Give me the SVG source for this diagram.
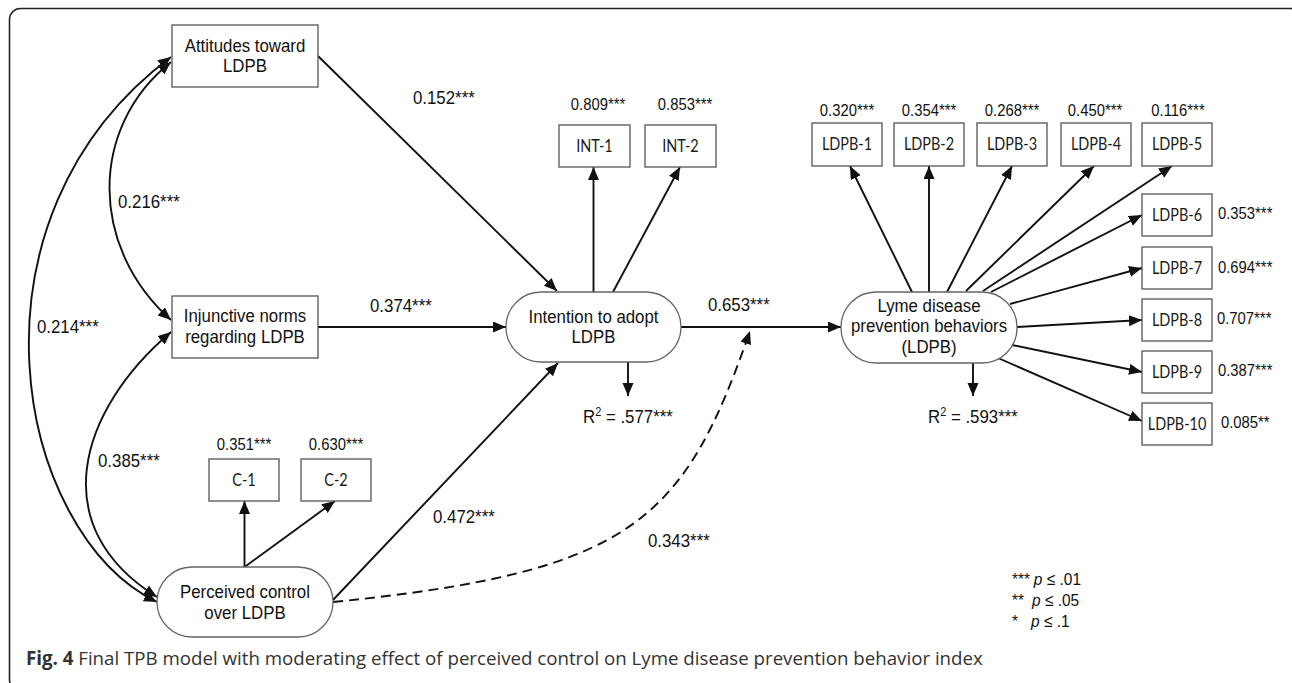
<svg xmlns="http://www.w3.org/2000/svg" width="1292" height="683" viewBox="0 0 1292 683">
<style>
.frame{fill:none;stroke:#222;stroke-width:1.6}
.box{fill:#fff;stroke:#555;stroke-width:1.3}
.oval{fill:#fff;stroke:#666;stroke-width:1.3}
text{transform-box:fill-box}
.nt{font-family:"Liberation Sans",Arial,sans-serif;font-size:18.5px;fill:#111;text-anchor:middle;transform-origin:center;transform:scaleX(0.91)}
.bt{font-family:Lato,"Open Sans",sans-serif;font-size:17px;fill:#1a1a1a;text-anchor:middle;transform-origin:center;transform:scaleX(0.85)}
.co{font-family:"Liberation Sans",Arial,sans-serif;font-size:18.5px;fill:#111;transform-origin:left center;transform:scaleX(0.91)}
.ld{font-family:"Liberation Sans",Arial,sans-serif;font-size:16.3px;fill:#111;transform-origin:left center;transform:scaleX(0.91)}
.ldm{font-family:"Liberation Sans",Arial,sans-serif;font-size:16.3px;fill:#111;text-anchor:middle;transform-origin:center;transform:scaleX(0.91)}
.lg{font-family:"Liberation Sans",Arial,sans-serif;font-size:17px;fill:#111;transform-origin:left center;transform:scaleX(0.91)}
.cap{font-family:"Open Sans","Noto Sans",sans-serif;font-size:18.7px;fill:#333}
.ln{fill:none;stroke:#111;stroke-width:1.9;marker-end:url(#ah)}
.dash{stroke-dasharray:10 6}
.bi{marker-start:url(#ah)}
</style>
<defs>
<marker id="ah" markerUnits="userSpaceOnUse" markerWidth="14" markerHeight="12" refX="13" refY="5.5" orient="auto-start-reverse" viewBox="0 0 14 12">
<path d="M0,0 L13,5.5 L0,11 z" fill="#111"/>
</marker>
</defs>
<rect class="frame" x="9.5" y="8.5" width="1292" height="682" rx="11"/>

<g id="connectors">
<path class="ln bi" d="M157,602 C14,532 -45,218 171,57"/>
<path class="ln bi" d="M171,320 C90,248 88,128 171,62"/>
<path class="ln bi" d="M171,332 C78,411 44.5,527 157,597"/>
<path class="ln" d="M318,56 L557,291"/>
<path class="ln" d="M318,327 L506,327"/>
<path class="ln" d="M333,600 L558,363"/>
<path class="ln" d="M593.5,292 L593.5,167"/>
<path class="ln" d="M613,292 L680,167"/>
<path class="ln" d="M628,362 L628,396"/>
<path class="ln" d="M244.5,567 L244.5,501"/>
<path class="ln" d="M244.5,567 L335,501"/>
<path class="ln" d="M681,327 L841,327"/>
<path class="ln dash" d="M333,602 C633,572 684,521 750,331"/>
<path class="ln" d="M973,363 L973,396"/>
<path class="ln" d="M912,292 L850,166"/>
<path class="ln" d="M929,292 L929,166"/>
<path class="ln" d="M947,292 L1012,166"/>
<path class="ln" d="M966,291 L1094,166"/>
<path class="ln" d="M983,291 L1172,166"/>
<path class="ln" d="M991,292 L1142,215"/>
<path class="ln" d="M1010,304 L1142,268"/>
<path class="ln" d="M1017,327 L1142,320"/>
<path class="ln" d="M1012,345 L1142,372"/>
<path class="ln" d="M998,358 L1142,421"/>
</g>

<g id="coefficients">
<text class="co" x="413" y="104.5">0.152***</text>
<text class="co" x="118" y="208.5">0.216***</text>
<text class="co" x="37" y="333.5">0.214***</text>
<text class="co" x="370" y="312.5">0.374***</text>
<text class="co" x="98" y="467.5">0.385***</text>
<text class="co" x="433" y="523.5">0.472***</text>
<text class="co" x="648" y="547.5">0.343***</text>
<text class="co" x="708" y="311.5">0.653***</text>
<text class="co" x="583" y="423.5">R<tspan font-size="12" dy="-7">2</tspan><tspan dy="7"> = .577***</tspan></text>
<text class="co" x="928" y="423.5">R<tspan font-size="12" dy="-7">2</tspan><tspan dy="7"> = .593***</tspan></text>
</g>

<g id="node-attitudes">
<rect class="box" x="172" y="25" width="146" height="62"/>
<text class="nt" x="245" y="52.5">Attitudes toward</text>
<text class="nt" x="245" y="72.5">LDPB</text>
</g>
<g id="node-injunctive">
<rect class="box" x="172" y="296" width="146" height="62"/>
<text class="nt" x="245" y="322.5">Injunctive norms</text>
<text class="nt" x="245" y="343">regarding LDPB</text>
</g>
<g id="node-perceived">
<rect class="oval" x="157" y="567" width="176" height="70" rx="35"/>
<text class="nt" x="245" y="598">Perceived control</text>
<text class="nt" x="245" y="619.5">over LDPB</text>
</g>
<g id="node-c1">
<rect class="box" x="209" y="459" width="70" height="42"/>
<text class="bt" x="244" y="486">C-1</text>
<text class="ldm" x="244" y="450.5">0.351***</text>
</g>
<g id="node-c2">
<rect class="box" x="301" y="459" width="70" height="42"/>
<text class="bt" x="336" y="486">C-2</text>
<text class="ldm" x="336" y="450.5">0.630***</text>
</g>
<g id="node-intention">
<rect class="oval" x="506" y="292" width="175" height="70" rx="35"/>
<text class="nt" x="593.5" y="323">Intention to adopt</text>
<text class="nt" x="593.5" y="343">LDPB</text>
</g>
<g id="node-int1">
<rect class="box" x="559" y="125" width="71" height="42"/>
<text class="bt" x="594.5" y="152">INT-1</text>
<text class="ldm" x="598" y="110.5">0.809***</text>
</g>
<g id="node-int2">
<rect class="box" x="645" y="125" width="71" height="42"/>
<text class="bt" x="680.5" y="152">INT-2</text>
<text class="ldm" x="685" y="110.5">0.853***</text>
</g>
<g id="node-ldpb">
<rect class="oval" x="841" y="292" width="176" height="71" rx="35"/>
<text class="nt" x="929" y="312.5">Lyme disease</text>
<text class="nt" x="929" y="332.5">prevention behaviors</text>
<text class="nt" x="929" y="353">(LDPB)</text>
</g>
<g id="node-ldpb1">
<rect class="box" x="812" y="123" width="70" height="43"/>
<text class="bt" x="847" y="150.5">LDPB-1</text>
<text class="ldm" x="847" y="116.5">0.320***</text>
</g>
<g id="node-ldpb2">
<rect class="box" x="894" y="123" width="70" height="43"/>
<text class="bt" x="929" y="150.5">LDPB-2</text>
<text class="ldm" x="929" y="116.5">0.354***</text>
</g>
<g id="node-ldpb3">
<rect class="box" x="977" y="123" width="70" height="43"/>
<text class="bt" x="1012" y="150.5">LDPB-3</text>
<text class="ldm" x="1012" y="116.5">0.268***</text>
</g>
<g id="node-ldpb4">
<rect class="box" x="1061" y="123" width="70" height="43"/>
<text class="bt" x="1096" y="150.5">LDPB-4</text>
<text class="ldm" x="1095" y="116.5">0.450***</text>
</g>
<g id="node-ldpb5">
<rect class="box" x="1142" y="123" width="70" height="43"/>
<text class="bt" x="1177" y="150.5">LDPB-5</text>
<text class="ldm" x="1178" y="116.5">0.116***</text>
</g>
<g id="node-ldpb6">
<rect class="box" x="1142" y="194" width="70" height="42"/>
<text class="bt" x="1177" y="221">LDPB-6</text>
<text class="ld" x="1218" y="219">0.353***</text>
</g>
<g id="node-ldpb7">
<rect class="box" x="1142" y="247" width="70" height="42"/>
<text class="bt" x="1177" y="274">LDPB-7</text>
<text class="ld" x="1218" y="273">0.694***</text>
</g>
<g id="node-ldpb8">
<rect class="box" x="1142" y="299" width="70" height="42"/>
<text class="bt" x="1177" y="326">LDPB-8</text>
<text class="ld" x="1217" y="324">0.707***</text>
</g>
<g id="node-ldpb9">
<rect class="box" x="1142" y="351" width="70" height="42"/>
<text class="bt" x="1177" y="378">LDPB-9</text>
<text class="ld" x="1218" y="376.5">0.387***</text>
</g>
<g id="node-ldpb10">
<rect class="box" x="1142" y="403" width="70" height="42"/>
<text class="bt" x="1177" y="430">LDPB-10</text>
<text class="ld" x="1221" y="428.5">0.085**</text>
</g>

<g id="legend">
<text class="lg" x="1012" y="585">***<tspan x="1036" font-style="italic">p</tspan><tspan> ≤ .01</tspan></text>
<text class="lg" x="1012" y="606">**<tspan x="1034" font-style="italic">p</tspan><tspan> ≤ .05</tspan></text>
<text class="lg" x="1012" y="627">*<tspan x="1033" font-style="italic">p</tspan><tspan> ≤ .1</tspan></text>
</g>

<text class="cap" x="26" y="665"><tspan font-weight="bold">Fig. 4</tspan> Final TPB model with moderating effect of perceived control on Lyme disease prevention behavior index</text>
</svg>
